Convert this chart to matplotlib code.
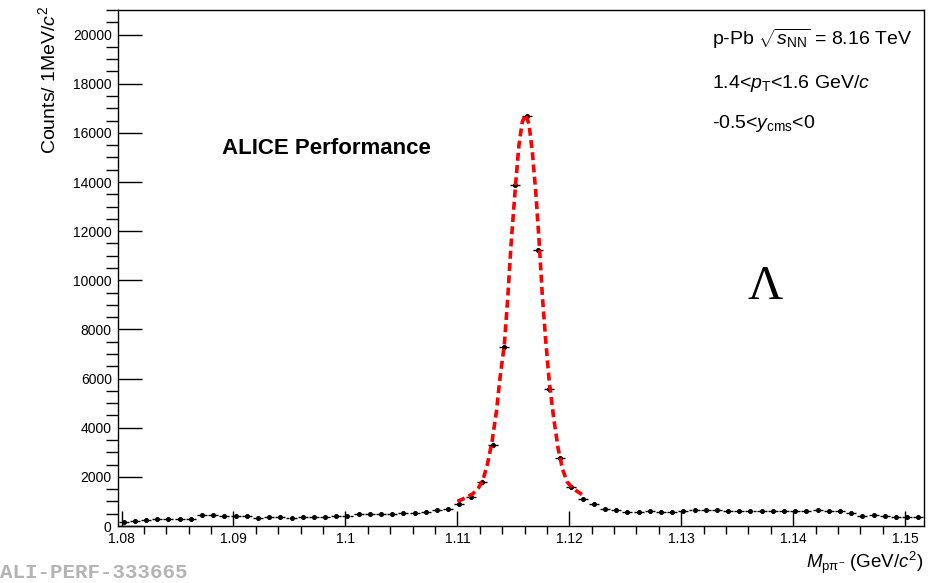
#!/usr/bin/env python3
"""Lambda invariant-mass peak in p-Pb, ALICE performance style."""
import numpy as np
import matplotlib
matplotlib.use("Agg")
import matplotlib.pyplot as plt
from matplotlib.ticker import MultipleLocator, FuncFormatter

plt.rcParams["font.family"] = ["Liberation Sans", "DejaVu Sans"]
plt.rcParams["mathtext.fontset"] = "custom"
plt.rcParams["mathtext.rm"] = "Liberation Sans"
plt.rcParams["mathtext.it"] = "Liberation Sans:italic"
plt.rcParams["mathtext.bf"] = "Liberation Sans:bold"

# histogram range: PDG Lambda mass +- 36 MeV, 1 MeV bins
mass_lo = 1.079683
mass_hi = 1.151683
n_bins = 72

# counts per bin
counts = [
    163, 203, 244, 298, 271, 298, 298, 434, 461, 420,
    406, 406, 339, 366, 366, 325, 366, 379, 379, 393,
    406, 474, 474, 488, 501, 515, 542, 583, 650, 705,
    880, 1165, 1775, 3306, 7279, 13862, 16700, 11242, 5568, 2783,
    1600, 1084, 894, 705, 650, 583, 583, 596, 583, 583,
    610, 637, 637, 637, 623, 623, 623, 623, 623, 596,
    596, 596, 664, 610, 596, 528, 406, 447, 393, 352,
    366, 366,
]

# fit curve, points
fit_mass = [
    1.1100, 1.1108, 1.1114, 1.1119, 1.1123, 1.1127, 1.1131, 1.1135,
    1.1138, 1.1142, 1.1145, 1.1148, 1.1152, 1.1155, 1.1158, 1.1161,
    1.1164, 1.1167, 1.1170, 1.1173, 1.1176, 1.1179, 1.1182, 1.1186,
    1.1190, 1.1194, 1.1198, 1.1203, 1.1208, 1.1213,
]
fit_counts = [
    1000, 1160, 1320, 1560, 1900, 2550, 3450, 4700,
    6000, 7400, 9300, 11500, 13900, 15500, 16450, 16750,
    16350, 15200, 13600, 11600, 9300, 7500, 5900, 4400,
    3150, 2300, 1800, 1530, 1380, 1230,
]

centers = mass_lo + (np.arange(n_bins) + 0.5) * (mass_hi - mass_lo) / n_bins
counts = np.array(counts)

fig = plt.figure(figsize=(9.39, 5.83), dpi=100)
ax = fig.add_axes([118 / 939, 57 / 583, 806 / 939, 516 / 583])

# ROOT-like "-o-" horizontal error bars with a gap around the marker
ax.hlines(counts, centers - 0.00045, centers - 0.00018, color="black", lw=1.0)
ax.hlines(counts, centers + 0.00018, centers + 0.00045, color="black", lw=1.0)
ax.plot(centers, counts, "o", color="black", ms=2.6, zorder=3)

ax.plot(fit_mass, fit_counts, color="#ff0000", lw=2.6,
        linestyle=(0, (2.2, 1.2)), zorder=4)

ax.set_xlim(mass_lo, mass_hi)
ax.set_ylim(0, 21000)
ax.xaxis.set_major_locator(MultipleLocator(0.01))
ax.xaxis.set_minor_locator(MultipleLocator(0.002))
ax.yaxis.set_major_locator(MultipleLocator(2000))
ax.yaxis.set_minor_locator(MultipleLocator(500))
ax.xaxis.set_major_formatter(FuncFormatter(lambda v, p: f"{v:g}"))

ax.tick_params(axis="both", direction="in", labelsize=10, top=False, right=False)
ax.tick_params(axis="x", which="major", length=10.8, width=1.0, pad=4.5)
ax.tick_params(axis="x", which="minor", length=5.4, width=1.0)
ax.tick_params(axis="y", which="major", length=17.3, width=1.0, pad=4.5)
ax.tick_params(axis="y", which="minor", length=8.6, width=1.0)
for sp in ax.spines.values():
    sp.set_linewidth(1.0)

fig.text(48 / 939, 1 - 6 / 583, r"Counts/ 1MeV/$c^{2}$", rotation=90,
         ha="center", va="top", fontsize=14)
fig.text(924 / 939, 1 - 563 / 583, r"$M_{\rm p\pi^{-}}$ (GeV/$c^{2}$)",
         ha="right", va="center", fontsize=13.5)

fig.text(222 / 939, 1 - 154 / 583, "ALICE Performance", fontsize=16,
         fontweight="bold", ha="left", va="baseline")

fig.text(712 / 939, 1 - 45 / 583, r"p-Pb $\sqrt{s_{\rm NN}}$ = 8.16 TeV",
         fontsize=14, ha="left", va="baseline")
fig.text(712 / 939, 1 - 88 / 583, r"1.4<$p_{\rm T}$<1.6 GeV/$c$",
         fontsize=14, ha="left", va="baseline")
fig.text(712 / 939, 1 - 128 / 583, r"-0.5<$y_{\rm cms}$<0",
         fontsize=14, ha="left", va="baseline")

fig.text(765 / 939, 1 - 287 / 583, "\u039b", family="Liberation Serif",
         fontsize=35, ha="center", va="center")

fig.text(0.0, 1 - 572 / 583, "ALI-PERF-333665", family="Liberation Mono",
         fontweight="bold", fontsize=15, color="#b4b4b4", ha="left", va="center")

fig.savefig("out.png", dpi=100)
